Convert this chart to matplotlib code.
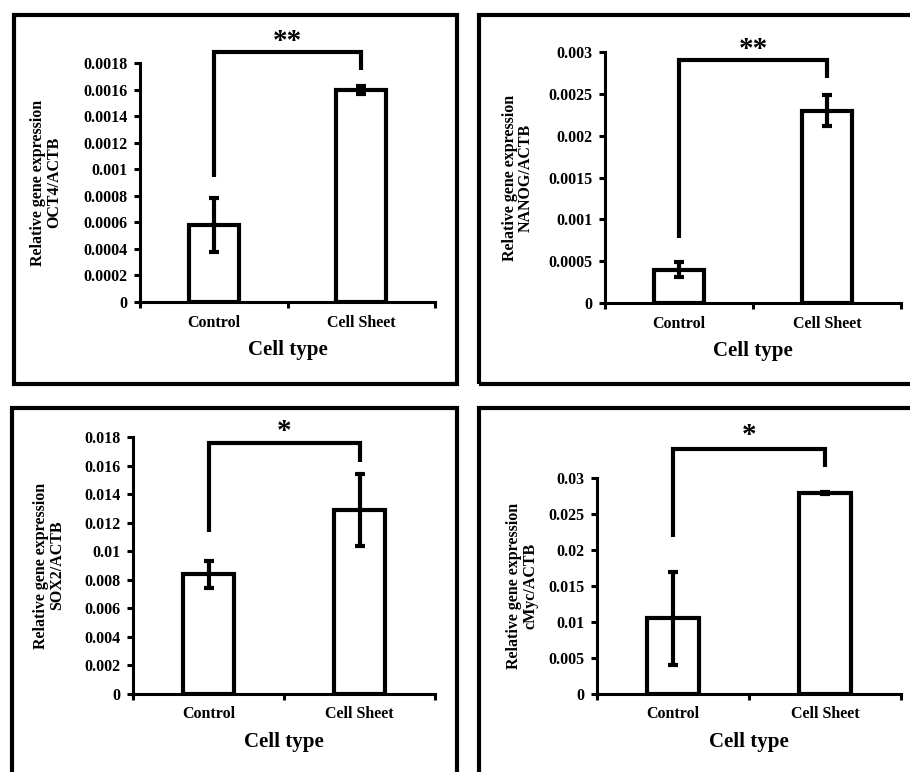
import matplotlib
matplotlib.use("Agg")
import matplotlib.pyplot as plt
from matplotlib.patches import Rectangle
from matplotlib.ticker import FixedLocator

# ========== Data ==========

categories = ['Control', 'Cell Sheet']
genes = ['OCT4', 'NANOG', 'SOX2', 'cMyc']

oct4_mean = [0.00058, 0.0016]
oct4_err = [0.0002, 0.00003]
nanog_mean = [0.0004, 0.0023]
nanog_err = [0.00009, 0.00019]
sox2_mean = [0.0084, 0.0129]
sox2_err = [0.00095, 0.0025]
cmyc_mean = [0.0105, 0.0279]
cmyc_err = [0.0065, 0.0001]

y_max = [0.0018, 0.003, 0.018, 0.03]
y_step = [0.0002, 0.0005, 0.002, 0.005]

stars = ['**', '**', '*', '*']
bracket_top = [0.00188, 0.0029, 0.01758, 0.034]
bracket_left = [0.00094, 0.00078, 0.01135, 0.0218]
bracket_right = [0.00175, 0.00269, 0.01625, 0.0315]
star_y = [0.00196, 0.00303, 0.01842, 0.03584]

means = [oct4_mean, nanog_mean, sox2_mean, cmyc_mean]
errs = [oct4_err, nanog_err, sox2_err, cmyc_err]

# ========== Layout ==========

W, H = 910, 772
plt.rcParams['font.family'] = 'Liberation Serif'
plt.rcParams['font.weight'] = 'bold'

fig = plt.figure(figsize=(W / 100, H / 100), dpi=100)

# axes boxes in pixels: left, top, right, bottom
axes_px = [(140, 63, 435, 302), (605, 52, 901, 303),
           (133, 437, 435, 694), (597, 478, 901, 694)]
label_x = [-0.264, -0.24, -0.225, -0.194]
# outer frames in pixels: left, top, right, bottom
frames_px = [(13.5, 15, 456.5, 383.5), (479, 15, 930, 383.5),
             (12, 408.5, 456.5, 800), (479, 408.5, 930, 800)]

for (l, t, r, b) in frames_px:
    fig.add_artist(Rectangle((l / W, 1 - b / H), (r - l) / W, (b - t) / H,
                             transform=fig.transFigure, fill=False,
                             edgecolor='black', linewidth=3))

for i, gene in enumerate(genes):
    l, t, r, b = axes_px[i]
    ax = fig.add_axes([l / W, 1 - b / H, (r - l) / W, (b - t) / H])

    x = list(range(len(categories)))
    ax.bar(x, means[i], width=0.34, color='white', edgecolor='black',
           linewidth=3, zorder=2)
    ax.errorbar(x, means[i], yerr=errs[i], fmt='none', ecolor='black',
                elinewidth=3, capsize=3.5, capthick=3, zorder=3)

    # significance bracket
    ax.plot([0, 0, 1, 1], [bracket_left[i], bracket_top[i], bracket_top[i], bracket_right[i]],
            color='black', linewidth=3, clip_on=False, solid_capstyle='butt',
            solid_joinstyle='miter')
    ax.text(0.5, star_y[i], stars[i], ha='center', va='center', fontsize=21,
            fontweight='bold')

    ax.set_xlim(-0.5, 1.5)
    ax.set_ylim(0, y_max[i])
    n = int(round(y_max[i] / y_step[i]))
    yt = [k * y_step[i] for k in range(n + 1)]
    ax.set_yticks(yt)
    ax.set_yticklabels(['{:g}'.format(round(v, 6)) for v in yt])

    ax.set_xticks(x)
    ax.set_xticklabels(categories)
    ax.xaxis.set_minor_locator(FixedLocator([-0.5, 0.5, 1.5]))
    ax.tick_params(axis='x', which='major', length=0, pad=9, labelsize=11.5)
    ax.tick_params(axis='x', which='minor', length=4, width=2.2, direction='out')
    ax.tick_params(axis='y', length=4, width=2.2, pad=5, labelsize=11.5)

    for side in ['top', 'right']:
        ax.spines[side].set_visible(False)
    for side in ['left', 'bottom']:
        ax.spines[side].set_linewidth(2.2)

    ax.set_xlabel('Cell type', fontsize=15, fontweight='bold', labelpad=7)
    ax.set_ylabel('Relative gene expression\n%s/ACTB' % gene, fontsize=11.5,
                  fontweight='bold', linespacing=1.0)
    ax.yaxis.set_label_coords(label_x[i], 0.5)

fig.savefig('out.png', dpi=100)
